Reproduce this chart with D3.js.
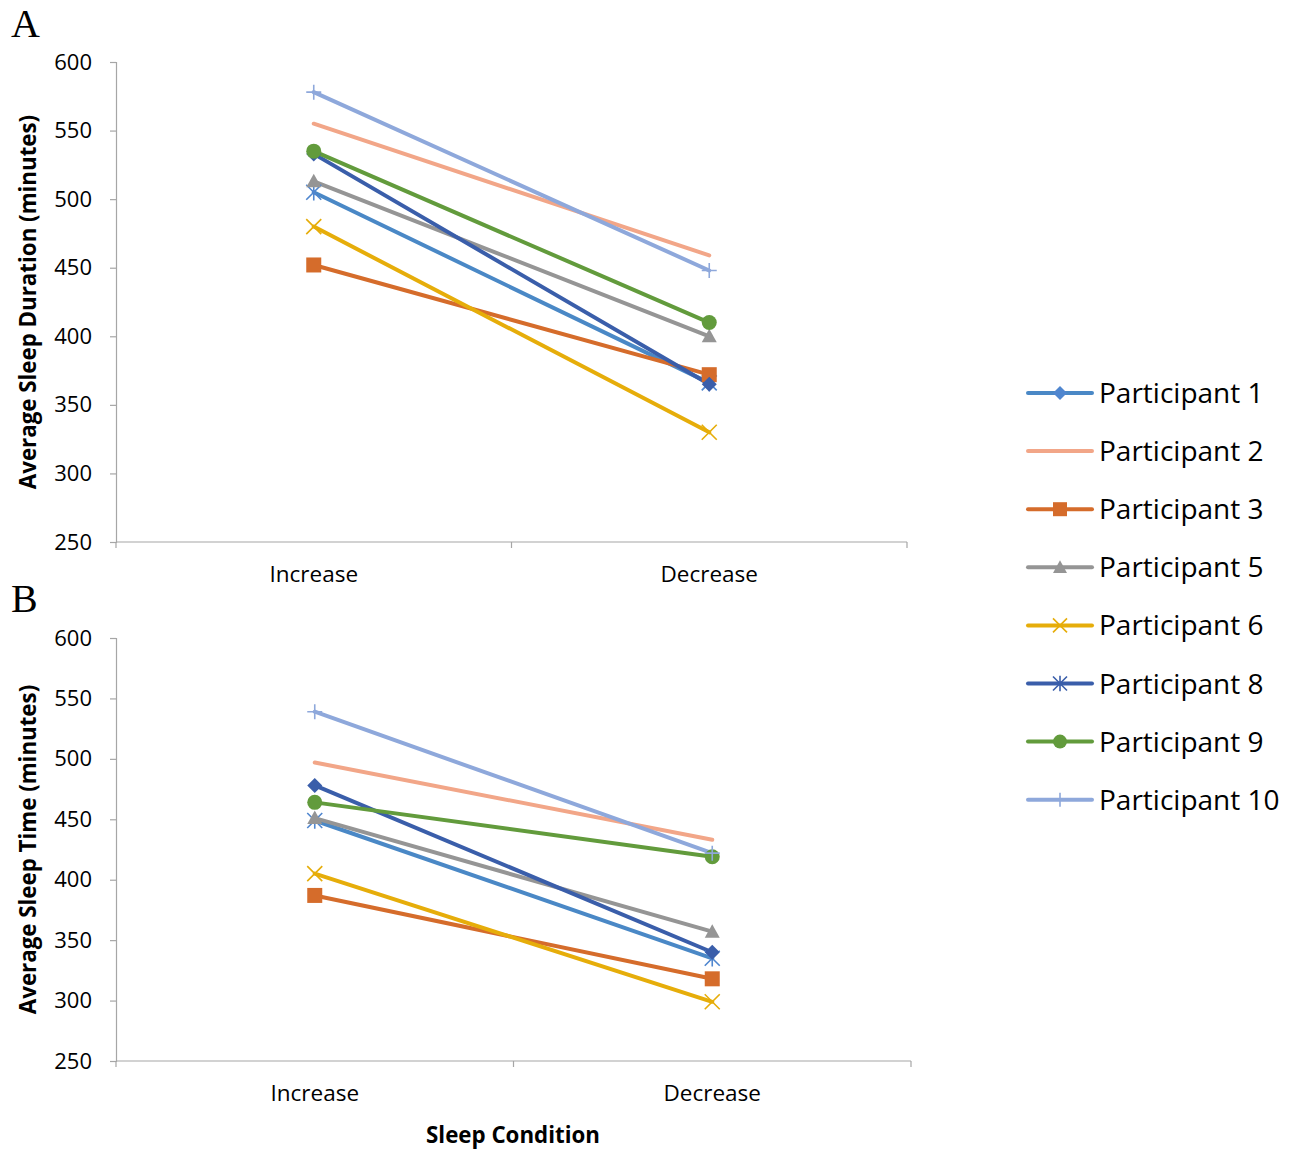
<!DOCTYPE html>
<html><head><meta charset="utf-8">
<script src="https://cdn.jsdelivr.net/npm/d3@7"></script>
<style>body{margin:0;background:#fff}svg{display:block}</style>
</head><body>
<script>
// ---- data ----
const categories = ["Increase", "Decrease"];
const participants = ["Participant 1","Participant 2","Participant 3","Participant 5","Participant 6","Participant 8","Participant 9","Participant 10"];
// Panel A: Average Sleep Duration (minutes) [Increase, Decrease]
const durationA = [[505,366],[555,459],[452,372],[513,400],[480,330],[533,365],[535,410],[578,448]];
// Panel B: Average Sleep Time (minutes)
const timeB = [[449,335],[497,433],[387,318],[451,357],[405,299],[478,340],[464,419],[539,422]];
const yTicks = [250,300,350,400,450,500,550,600];

// ---- styles ----
const lineColors = ["#4a88c6","#f2a688","#d56c2b","#959595","#e6ad0a","#3a5eaa","#629b3c","#8ea8db"];
const markerColors = ["#4f86cf","#f2a688","#d56c2b","#959595","#e6ad0a","#3a5eaa","#629b3c","#8ea8db"];
const plotMarkers = ["asterisk","none","square","triangle","x","diamond","circle","plus"];
const legendMarkers = ["diamond","none","square","triangle","x","asterisk","circle","plus"];

const W = 1298, H = 1151;
const svg = d3.select("body").append("svg").attr("width", W).attr("height", H);
const font = "'Open Sans', 'Noto Sans', sans-serif";

function drawMarker(g, type, x, y, color, s) {
  s = s || 7;
  if (type === "none") return;
  if (type === "circle") g.append("circle").attr("cx", x).attr("cy", y).attr("r", s).attr("fill", color);
  else if (type === "square") g.append("rect").attr("x", x - s).attr("y", y - s).attr("width", 2*s).attr("height", 2*s).attr("fill", color);
  else if (type === "diamond") g.append("path").attr("d", `M${x},${y-s}L${x+s},${y}L${x},${y+s}L${x-s},${y}Z`).attr("fill", color);
  else if (type === "triangle") g.append("path").attr("d", `M${x},${y-s}L${x+s},${y+s*0.8}L${x-s},${y+s*0.8}Z`).attr("fill", color);
  else if (type === "x") g.append("path").attr("d", `M${x-s},${y-s}L${x+s},${y+s}M${x-s},${y+s}L${x+s},${y-s}`).attr("stroke", color).attr("stroke-width", 1.6).attr("fill","none");
  else if (type === "asterisk") g.append("path").attr("d", `M${x-s},${y-s}L${x+s},${y+s}M${x-s},${y+s}L${x+s},${y-s}M${x},${y-s*1.1}L${x},${y+s*1.1}`).attr("stroke", color).attr("stroke-width", 1.6).attr("fill","none");
  else if (type === "plus") g.append("path").attr("d", `M${x-s},${y}L${x+s},${y}M${x},${y-s}L${x},${y+s}`).attr("stroke", color).attr("stroke-width", 1.6).attr("fill","none");
}

function panel(data, top, bottom, left, right, yTitle, label, labelY) {
  const x = d3.scaleBand().domain(categories).range([left, right]).paddingInner(0).paddingOuter(0);
  const y = d3.scaleLinear().domain([250, 600]).range([bottom, top]);
  const g = svg.append("g");
  // y axis
  const yAx = g.append("g").attr("transform", `translate(${left},0)`)
    .call(d3.axisLeft(y).tickValues(yTicks).tickSize(6).tickPadding(18).tickFormat(d3.format("d")));
  yAx.select(".domain").attr("stroke", "#a6a6a6").attr("stroke-width", 1.2);
  yAx.selectAll(".tick line").attr("stroke", "#a6a6a6").attr("stroke-width", 1.2);
  yAx.selectAll("text").attr("font-family", font).attr("font-size", 22).attr("fill", "#000");
  // x axis
  const xAx = g.append("g").attr("transform", `translate(0,${bottom})`);
  xAx.append("line").attr("x1", left).attr("x2", right).attr("stroke", "#a6a6a6").attr("stroke-width", 1.2);
  const bounds = [left, left + x.bandwidth(), right];
  bounds.forEach(b => xAx.append("line").attr("x1", b).attr("x2", b).attr("y1", 0).attr("y2", 6).attr("stroke", "#a6a6a6").attr("stroke-width", 1.2));
  categories.forEach(c => xAx.append("text").attr("x", x(c) + x.bandwidth()/2).attr("y", 40)
    .attr("text-anchor", "middle").attr("font-family", font).attr("font-size", 22.5).text(c));
  // y title
  g.append("text").attr("transform", `translate(36,${(top+bottom)/2}) rotate(-90)`)
    .attr("text-anchor", "middle").attr("font-family", font).attr("font-weight", "bold").attr("font-size", 22.3).text(yTitle);
  // panel label
  svg.append("text").attr("x", 11).attr("y", labelY).attr("font-family", "'Liberation Serif', serif").attr("font-size", 40).text(label);
  // lines
  const line = d3.line().x((d, i) => x(categories[i]) + x.bandwidth()/2).y(d => y(d));
  data.forEach((vals, k) => {
    g.append("path").datum(vals).attr("d", line).attr("fill", "none")
      .attr("stroke", lineColors[k]).attr("stroke-width", 4).attr("stroke-linecap", "round");
  });
  data.forEach((vals, k) => {
    vals.forEach((v, i) => drawMarker(g, plotMarkers[k], x(categories[i]) + x.bandwidth()/2, y(v), markerColors[k], 7.5));
  });
}

panel(durationA, 62, 542, 116, 907, "Average Sleep Duration (minutes)", "A", 37);
panel(timeB, 638, 1061, 116, 911, "Average Sleep Time (minutes)", "B", 612);

svg.append("text").attr("x", 513).attr("y", 1143).attr("text-anchor", "middle")
  .attr("font-family", font).attr("font-weight", "bold").attr("font-size", 22.3).text("Sleep Condition");

// legend
const lg = svg.append("g");
participants.forEach((p, k) => {
  const yy = 393 + k * 58.1;
  lg.append("line").attr("x1", 1028).attr("x2", 1092).attr("y1", yy).attr("y2", yy)
    .attr("stroke", lineColors[k]).attr("stroke-width", 4).attr("stroke-linecap", "round");
  drawMarker(lg, legendMarkers[k], 1060, yy, markerColors[k], 7);
  lg.append("text").attr("x", 1099).attr("y", yy + 10).attr("font-family", font).attr("font-size", 28).text(p);
});
</script>
</body></html>
